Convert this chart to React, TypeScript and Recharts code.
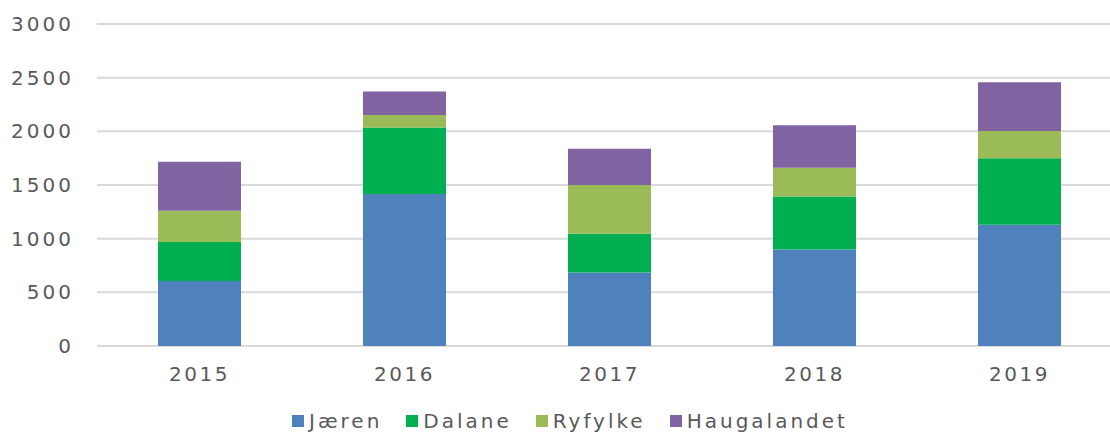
import { BarChart, Bar, XAxis, YAxis, CartesianGrid, Legend } from "recharts";

// Annual totals by region, stacked.
const years = ["2015", "2016", "2017", "2018", "2019"];
const jaeren = [605, 1415, 685, 900, 1130];
const dalane = [365, 620, 360, 492, 620];
const ryfylke = [290, 118, 455, 268, 252];
const haugalandet = [457, 217, 338, 396, 455];
const yTicks = [0, 500, 1000, 1500, 2000, 2500, 3000];

const SERIES = [
  { key: "jaeren", name: "Jæren", color: "#4F81BD" },
  { key: "dalane", name: "Dalane", color: "#00B050" },
  { key: "ryfylke", name: "Ryfylke", color: "#9BBB59" },
  { key: "haugalandet", name: "Haugalandet", color: "#8064A2" },
];

const FONT = "'DejaVu Sans', sans-serif";
const TEXT = "#595959";

function ChartLegend() {
  return (
    <div
      style={{
        display: "flex",
        alignItems: "center",
        paddingLeft: 292,
        fontFamily: FONT,
        fontSize: 20,
        letterSpacing: 3,
        color: TEXT,
        height: 24,
      }}
    >
      {SERIES.map((s) => (
        <div key={s.key} style={{ display: "flex", alignItems: "center", marginRight: 24 }}>
          <span style={{ width: 12, height: 12, background: s.color, marginRight: 5 }} />
          <span>{s.name}</span>
        </div>
      ))}
    </div>
  );
}

export default function App() {
  const data = years.map((year, i) => ({
    year,
    jaeren: jaeren[i],
    dalane: dalane[i],
    ryfylke: ryfylke[i],
    haugalandet: haugalandet[i],
  }));

  return (
    <div
      style={{
        position: "absolute",
        left: 0,
        top: 0,
        width: 1110,
        height: 433,
        overflow: "hidden",
        background: "#fff",
      }}
    >
      <BarChart
        width={1130}
        height={433}
        data={data}
        margin={{ top: 24, right: 8, left: 0, bottom: 0 }}
      >
        <CartesianGrid vertical={false} stroke="#D9D9D9" strokeWidth={2} />
        <XAxis
          dataKey="year"
          axisLine={false}
          tickLine={false}
          tickSize={0}
          tickMargin={21}
          height={63}
          tick={{ fill: TEXT, fontSize: 20, fontFamily: FONT, letterSpacing: 2.5 }}
        />
        <YAxis
          domain={[0, 3000]}
          ticks={yTicks}
          axisLine={false}
          tickLine={false}
          tickSize={0}
          tickMargin={23}
          width={97}
          tick={{ fill: TEXT, fontSize: 20, fontFamily: FONT, letterSpacing: 3 }}
        />
        <Legend
          content={() => <ChartLegend />}
          wrapperStyle={{ left: 0, top: 409, width: 1110 }}
        />
        {SERIES.map((s) => (
          <Bar
            key={s.key}
            dataKey={s.key}
            name={s.name}
            stackId="a"
            fill={s.color}
            barSize={83}
            isAnimationActive={false}
          />
        ))}
      </BarChart>
    </div>
  );
}
